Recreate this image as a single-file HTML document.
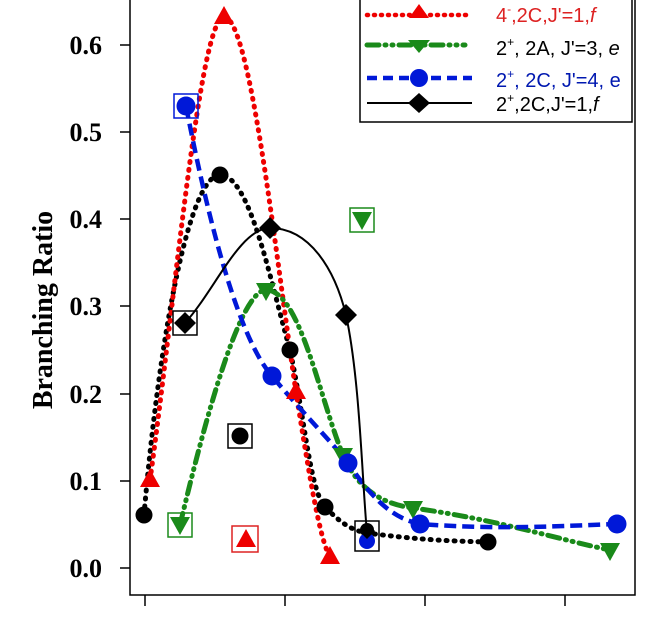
<!DOCTYPE html>
<html><head><style>body{margin:0;background:#fff}svg{display:block}</style></head><body>
<svg width="672" height="620" viewBox="0 0 672 620" xmlns="http://www.w3.org/2000/svg">
<rect x="130" y="-5" width="505" height="600" fill="none" stroke="#000" stroke-width="1.5"/>
<g stroke="#000" stroke-width="1.5">
<line x1="120" y1="568" x2="130" y2="568"/><line x1="120" y1="481" x2="130" y2="481"/><line x1="120" y1="394" x2="130" y2="394"/><line x1="120" y1="306" x2="130" y2="306"/><line x1="120" y1="219" x2="130" y2="219"/><line x1="120" y1="132" x2="130" y2="132"/><line x1="120" y1="45" x2="130" y2="45"/>
<line x1="145" y1="595" x2="145" y2="606"/><line x1="285" y1="595" x2="285" y2="606"/><line x1="425" y1="595" x2="425" y2="606"/><line x1="565" y1="595" x2="565" y2="606"/>
</g>
<g font-family="Liberation Serif,serif" font-weight="bold" font-size="26" text-anchor="end">
<text x="102" y="577">0.0</text><text x="102" y="490">0.1</text><text x="102" y="403">0.2</text><text x="102" y="315">0.3</text><text x="102" y="228">0.4</text><text x="102" y="141">0.5</text><text x="102" y="54">0.6</text>
</g>
<text transform="translate(52,310) rotate(-90)" font-family="Liberation Serif,serif" font-weight="bold" font-size="28" text-anchor="middle">Branching Ratio</text>
<path d="M144,515 C160,330 190,175 220,175 C250,175 270,280 290,350 C305,420 310,490 325,507 C340,522 350,530 367,533 C420,540 450,541 488,542" fill="none" stroke="#000" stroke-width="5" stroke-dasharray="1 7" stroke-linecap="round"/>
<path d="M150,480 C175,300 200,17 224,17 C250,17 275,250 296,392 C310,480 320,540 330,557" fill="none" stroke="#e00" stroke-width="5" stroke-dasharray="1 7" stroke-linecap="round"/>
<path d="M180,525 C205,420 240,290 266,290 C300,290 320,400 343,455 C360,495 390,505 413,508 C500,520 560,540 610,550" fill="none" stroke="#1a8a1a" stroke-width="5" stroke-dasharray="12 6 1 6 1 6" stroke-linecap="round"/>
<path d="M186,106 C210,230 240,340 272,376 C300,410 330,440 348,463 C370,495 390,518 420,524 C500,530 560,526 617,524" fill="none" stroke="#0018d8" stroke-width="4.5" stroke-dasharray="12 6"/>
<path d="M185,323 C215,290 240,228 270,228 C310,228 335,270 346,315 C360,380 362,480 367,533" fill="none" stroke="#000" stroke-width="2"/>
<g fill="none" stroke-width="1.5">
<rect x="232" y="526" width="26" height="26" stroke="#d22"/>
<rect x="168" y="513" width="24" height="24" stroke="#1a8a1a"/>
<rect x="350" y="208" width="24" height="24" stroke="#1a8a1a"/>
<rect x="174" y="94" width="24" height="24" stroke="#0018d8"/>
<rect x="228" y="424" width="24" height="24" stroke="#000"/>
<rect x="173" y="311" width="24" height="24" stroke="#000"/>
<rect x="355" y="521" width="24" height="30" stroke="#000"/>
</g>
<g fill="#000"><circle cx="144" cy="515" r="8.5"/><circle cx="220" cy="175" r="8.5"/><circle cx="290" cy="350" r="8.5"/><circle cx="325" cy="507" r="8.5"/><circle cx="367" cy="530" r="7"/><circle cx="488" cy="542" r="8.5"/><circle cx="240" cy="436" r="8.5"/></g>
<g fill="#e00"><path d="M150,469 l10,18 h-20z"/><path d="M224,6 l10,18 h-20z"/><path d="M296,381 l10,18 h-20z"/><path d="M330,546 l10,18 h-20z"/><path d="M246,529 l10,18 h-20z"/></g>
<g fill="#1a8a1a"><path d="M170,517 h20 l-10,18z"/><path d="M256,283 h20 l-10,18z"/><path d="M333,448 h20 l-10,18z"/><path d="M403,501 h20 l-10,18z"/><path d="M600,543 h20 l-10,18z"/><path d="M352,212 h20 l-10,18z"/></g>
<g fill="#0018d8"><circle cx="186" cy="106" r="9.5"/><circle cx="272" cy="376" r="9.5"/><circle cx="348" cy="463" r="9.5"/><circle cx="420" cy="524" r="9.5"/><circle cx="617" cy="524" r="9.5"/><circle cx="367" cy="541" r="8"/></g>
<g fill="#000"><path d="M185,312 l11,11 -11,11 -11,-11z"/><path d="M270,217 l11,11 -11,11 -11,-11z"/><path d="M346,304 l11,11 -11,11 -11,-11z"/><path d="M367,523 l8,8 -8,8 -8,-8z"/></g>
<rect x="360" y="-5" width="272" height="127" fill="#fff" stroke="#000" stroke-width="1.5"/>
<line x1="367" y1="15" x2="472" y2="15" stroke="#e00" stroke-width="4.5" stroke-dasharray="1 6" stroke-linecap="round"/>
<path d="M419,4 l10,14 h-20z" fill="#e00"/>
<line x1="367" y1="45" x2="465" y2="45" stroke="#1a8a1a" stroke-width="5" stroke-dasharray="12 6 1 6 1 6" stroke-linecap="round"/>
<path d="M408,40 h22 l-11,13z" fill="#1a8a1a"/>
<line x1="367" y1="78" x2="472" y2="78" stroke="#0018d8" stroke-width="4.5" stroke-dasharray="10 6"/>
<circle cx="419" cy="78" r="9" fill="#0018d8"/>
<line x1="367" y1="103" x2="472" y2="103" stroke="#000" stroke-width="2"/>
<path d="M419,93 l11,10 -11,10 -11,-10z" fill="#000"/>
<g font-family="Liberation Sans,sans-serif" font-size="20">
<text x="496" y="22" fill="#d22">4<tspan dy="-9" font-size="12">-</tspan><tspan dy="9">,2C,J'=1,<tspan font-style="italic">f</tspan></tspan></text>
<text x="496" y="55" fill="#000">2<tspan dy="-9" font-size="12">+</tspan><tspan dy="9">, 2A, J'=3, <tspan font-style="italic">e</tspan></tspan></text>
<text x="496" y="87" fill="#0018b0">2<tspan dy="-9" font-size="12">+</tspan><tspan dy="9">, 2C, J'=4, e</tspan></text>
<text x="496" y="111" fill="#000">2<tspan dy="-9" font-size="12">+</tspan><tspan dy="9">,2C,J'=1,<tspan font-style="italic">f</tspan></tspan></text>
</g>
</svg>
</body></html>
